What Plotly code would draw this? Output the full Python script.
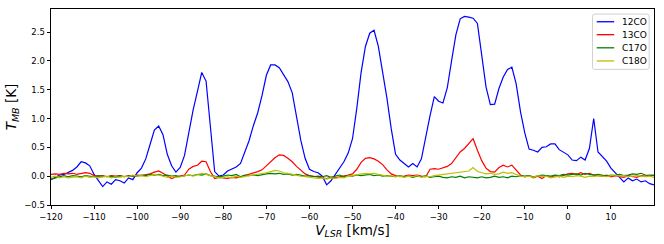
import numpy as np
import plotly.graph_objects as go

velocity = list(range(-120, 21))

co12 = [-0.06, -0.02, 0.02, 0.03, 0.06, 0.10, 0.16, 0.25, 0.23, 0.18,
        0.03, -0.08, -0.18, -0.10, -0.14, -0.06, -0.08, -0.12, -0.03, -0.06,
        0.06, 0.14, 0.30, 0.55, 0.80, 0.87, 0.72, 0.38, 0.18, 0.07,
        0.15, 0.36, 0.75, 1.15, 1.47, 1.80, 1.65, 0.90, 0.08, 0.00,
        0.02, 0.09, 0.13, 0.16, 0.22, 0.42, 0.62, 0.88, 1.10, 1.40,
        1.75, 1.93, 1.93, 1.88, 1.76, 1.64, 1.45, 1.05, 0.62, 0.31,
        0.12, 0.08, 0.06, 0.00, -0.15, -0.08, 0.03, 0.12, 0.25, 0.40,
        0.65, 1.18, 1.80, 2.25, 2.48, 2.53, 2.25, 1.80, 1.35, 0.82,
        0.38, 0.28, 0.22, 0.16, 0.22, 0.16, 0.30, 0.70, 1.05, 1.38,
        1.30, 1.27, 1.53, 2.00, 2.45, 2.73, 2.77, 2.76, 2.74, 2.65,
        2.05, 1.55, 1.24, 1.25, 1.52, 1.72, 1.85, 1.89, 1.60, 1.12,
        0.75, 0.47, 0.45, 0.42, 0.50, 0.51, 0.56, 0.56, 0.46, 0.41,
        0.37, 0.28, 0.27, 0.33, 0.28, 0.48, 1.00, 0.42, 0.34, 0.26,
        0.14, 0.06, -0.01, -0.10, -0.03, -0.08, -0.05, -0.10, -0.08, -0.13,
        -0.15]

co13 = [0.03, 0.04, 0.03, 0.05, 0.04, 0.05, 0.03, 0.05, 0.06, 0.05,
        0.01, 0.00, 0.01, -0.01, 0.01, 0.00, 0.01, -0.01, 0.01, 0.00,
        0.02, 0.01, 0.02, 0.04, 0.07, 0.09, 0.05, 0.01, -0.04, -0.01,
        0.01, 0.02, 0.12, 0.17, 0.19, 0.26, 0.25, 0.08, -0.04, -0.02,
        -0.03, -0.04, -0.02, -0.03, -0.01, 0.01, 0.03, 0.05, 0.08, 0.11,
        0.18, 0.26, 0.32, 0.37, 0.36, 0.31, 0.25, 0.17, 0.10, 0.04,
        0.01, 0.00, -0.01, -0.02, -0.04, -0.02, -0.03, -0.01, 0.00, 0.02,
        0.04, 0.12, 0.24, 0.31, 0.32, 0.30, 0.26, 0.20, 0.11, 0.04,
        0.01, -0.01, 0.00, 0.02, 0.01, 0.02, 0.00, -0.01, 0.12, 0.13,
        0.12, 0.15, 0.17, 0.22, 0.33, 0.42, 0.48, 0.56, 0.65, 0.45,
        0.27, 0.14, 0.08, 0.07, 0.15, 0.19, 0.16, 0.19, 0.11, 0.02,
        -0.01, 0.01, -0.03, 0.00, -0.04, 0.01, -0.02, 0.01, -0.01, 0.02,
        0.04, 0.05, 0.03, 0.06, 0.03, 0.05, 0.02, 0.01, 0.00, 0.02,
        -0.01, 0.01, 0.00, -0.02, 0.01, 0.00, -0.02, 0.01, 0.00, 0.02,
        0.01]

c17o = [-0.05, -0.03, 0.00, 0.01, -0.01, 0.01, 0.00, -0.01, 0.01, 0.00,
        -0.01, 0.01, 0.00, -0.01, 0.00, -0.02, 0.01, -0.01, 0.00, 0.01,
        0.00, 0.02, 0.01, 0.03, 0.02, 0.03, 0.01, 0.02, 0.00, 0.01,
        -0.01, 0.01, 0.02, 0.01, 0.03, 0.02, 0.04, 0.01, 0.00, -0.01,
        0.00, 0.02, 0.01, 0.03, -0.01, 0.02, 0.01, 0.02, 0.01, 0.03,
        0.04, 0.05, 0.04, 0.05, 0.03, 0.04, 0.02, 0.03, 0.01, 0.00,
        0.01, -0.01, 0.00, -0.01, 0.01, -0.02, 0.00, 0.02, -0.01, 0.01,
        0.00, 0.02, 0.01, 0.02, 0.03, 0.01, 0.02, 0.00, 0.01, 0.00,
        -0.01, 0.01, -0.01, 0.00, -0.02, 0.00, -0.01, 0.01, -0.02, -0.01,
        0.00, -0.02, -0.03, -0.01, -0.02, 0.00, -0.03, -0.01, -0.02, -0.03,
        -0.01, -0.03, -0.02, 0.00, -0.02, -0.01, -0.03, 0.00, -0.01, 0.01,
        0.00, 0.01, -0.01, 0.00, 0.02, 0.01, 0.00, 0.02, 0.01, 0.03,
        0.02, 0.03, 0.04, 0.02, 0.05, 0.03, 0.02, 0.03, 0.01, 0.00,
        0.02, 0.01, 0.03, 0.01, 0.02, 0.04, 0.03, 0.05, 0.02, 0.01,
        0.02]

c18o = [-0.02, 0.00, -0.03, -0.01, -0.03, -0.02, -0.01, -0.03, 0.00, -0.02,
        -0.01, -0.03, -0.02, 0.00, -0.03, -0.01, -0.02, 0.00, -0.01, 0.02,
        0.00, 0.01, -0.01, 0.01, 0.03, 0.02, 0.00, -0.02, 0.00, -0.02,
        -0.01, 0.01, 0.02, 0.00, 0.03, 0.05, 0.03, 0.01, -0.01, -0.03,
        -0.02, -0.01, -0.03, 0.00, -0.02, 0.00, 0.01, 0.02, 0.03, 0.04,
        0.06, 0.08, 0.10, 0.09, 0.06, 0.05, 0.03, 0.02, 0.00, -0.01,
        -0.02, -0.03, -0.04, -0.03, -0.05, -0.03, -0.04, -0.02, -0.03, 0.00,
        0.01, 0.02, 0.03, 0.05, 0.04, 0.05, 0.03, 0.02, 0.00, 0.01,
        -0.01, 0.00, -0.02, 0.00, -0.01, 0.01, -0.02, 0.00, -0.01, 0.01,
        0.02, 0.03, 0.04, 0.05, 0.06, 0.07, 0.07, 0.09, 0.15, 0.08,
        0.06, 0.04, 0.05, 0.03, 0.04, 0.07, 0.05, 0.06, 0.03, 0.00,
        -0.01, 0.00, -0.02, 0.01, -0.01, 0.00, -0.03, -0.01, 0.00, -0.02,
        0.00, -0.01, 0.01, 0.00, -0.02, 0.00, -0.01, 0.01, 0.00, -0.01,
        0.01, 0.02, 0.00, 0.01, -0.01, 0.00, 0.01, 0.00, -0.01, 0.00,
        -0.02]

names = ["12CO", "13CO", "C17O", "C18O"]
colors = ["#0000ff", "#ff0000", "#008000", "#bfbf00"]
values = [co12, co13, c17o, c18o]

x_ticks = list(range(-120, 11, 10))
y_ticks = [-0.5, 0.0, 0.5, 1.0, 1.5, 2.0, 2.5]
y_tick_text = ["−0.5", "0.0", "0.5", "1.0", "1.5", "2.0", "2.5"]

fig = go.Figure()
for name, vals, col in zip(names, values, colors):
    fig.add_trace(go.Scatter(x=velocity, y=vals, mode="lines", name=name,
                             line=dict(color=col, width=1.2), showlegend=False))

# hand-drawn legend box (matplotlib style, compact, rounded corners)
bx0, bx1, by0, by1 = 0.898, 0.992, 0.692, 0.974
rx, ry = 0.004, 0.012
box_path = (f"M {bx0+rx},{by0} L {bx1-rx},{by0} Q {bx1},{by0} {bx1},{by0+ry} "
            f"L {bx1},{by1-ry} Q {bx1},{by1} {bx1-rx},{by1} "
            f"L {bx0+rx},{by1} Q {bx0},{by1} {bx0},{by1-ry} "
            f"L {bx0},{by0+ry} Q {bx0},{by0} {bx0+rx},{by0} Z")
shapes = [dict(type="path", xref="paper", yref="paper", path=box_path,
               line=dict(color="#d0d0d0", width=1),
               fillcolor="rgba(255,255,255,0.8)", layer="above")]
annotations = []
entry_y = [0.935, 0.869, 0.802, 0.735]
for name, col, yy in zip(names, colors, entry_y):
    shapes.append(dict(type="line", xref="paper", yref="paper",
                       x0=0.905, x1=0.934, y0=yy, y1=yy,
                       line=dict(color=col, width=1.3), layer="above"))
    annotations.append(dict(xref="paper", yref="paper", x=0.944, y=yy,
                            text=name, showarrow=False, xanchor="left",
                            yanchor="middle",
                            font=dict(size=9, color="black")))

font = "DejaVu Sans"
fig.update_layout(
    width=664, height=244,
    margin=dict(l=51, r=10, t=9, b=39),
    paper_bgcolor="white", plot_bgcolor="white",
    font=dict(family=font, size=8.5, color="black"),
    shapes=shapes, annotations=annotations,
    showlegend=False,
)
fig.update_xaxes(range=[-120, 20], tickvals=x_ticks, ticks="outside",
                 ticklen=3.5, tickwidth=0.8, tickcolor="black",
                 showline=True, linecolor="black", linewidth=0.8, mirror=True,
                 showgrid=False, zeroline=False,
                 title=dict(text="<i>V</i><sub><i>LSR</i></sub> [km/s]",
                            font=dict(size=13.5), standoff=3))
fig.update_yaxes(range=[-0.5, 2.9], tickvals=y_ticks, ticktext=y_tick_text,
                 ticks="outside", ticklen=3.5, tickwidth=0.8, tickcolor="black",
                 showline=True, linecolor="black", linewidth=0.8, mirror=True,
                 showgrid=False, zeroline=False,
                 title=dict(text="<i>T</i><sub><i>MB</i></sub> [K]",
                            font=dict(size=13.5), standoff=4))

fig.write_html("out.html",
               config={"displayModeBar": False},
               post_script="document.body.style.margin='0';document.body.style.overflow='hidden';")
